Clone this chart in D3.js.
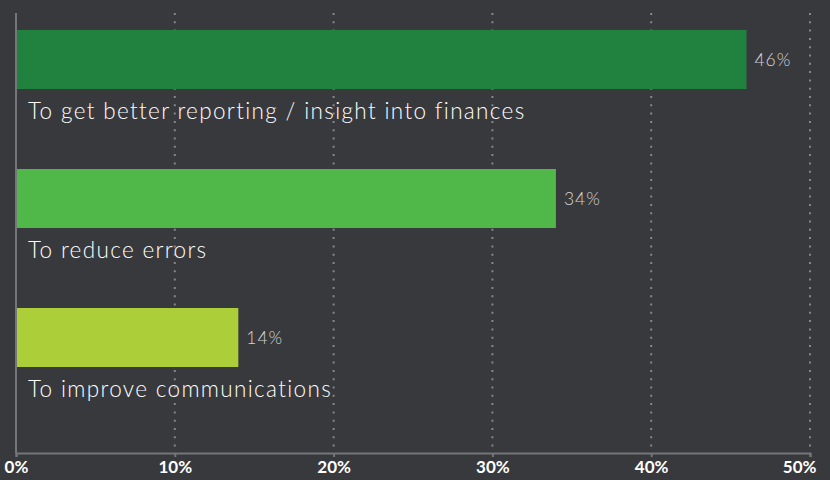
<!DOCTYPE html>
<html>
<head>
<meta charset="utf-8">
<script src="https://cdn.jsdelivr.net/npm/d3@7"></script>
<style>
  body { margin: 0; background: #38393d; }
</style>
</head>
<body>
<div id="chart"></div>
<script>
/* CONSTANTS AND GLOBALS */
const width = 830;
const height = 480;
const margin = { top: 13, left: 16, right: 20, bottom: 27 };

const categories = [
  "To get better reporting / insight into finances",
  "To reduce errors",
  "To improve communications"
];
const values = [46, 34, 14];
const barColors = ["#218240", "#50b849", "#acce39"];
const ticks = [0, 10, 20, 30, 40, 50];

const xScale = d3.scaleLinear()
  .domain([0, 50])
  .range([margin.left, 810]);

const yScale = d3.scaleBand()
  .domain(categories)
  .range([30 - 9, 30 - 9 + 139 * 3])
  .paddingInner(0)
  .paddingOuter(0);

const barH = 59;

const svg = d3.select("#chart")
  .append("svg")
  .attr("width", width)
  .attr("height", height)
  .style("background-color", "#38393d")
  .style("display", "block");

const axisY = height - margin.bottom;

// dotted grid
svg.append("g")
  .selectAll("line")
  .data(ticks.slice(1))
  .join("line")
  .attr("x1", d => xScale(d))
  .attr("x2", d => xScale(d))
  .attr("y1", margin.top)
  .attr("y2", axisY)
  .attr("stroke", "#85868a")
  .attr("stroke-width", 2)
  .attr("stroke-dasharray", "2,6.3");

// bars
svg.append("g")
  .selectAll("rect")
  .data(categories)
  .join("rect")
  .attr("x", xScale(0))
  .attr("y", d => yScale(d) + 9)
  .attr("width", (d, i) => xScale(values[i]) - xScale(0))
  .attr("height", barH)
  .attr("fill", (d, i) => barColors[i]);

// value labels
svg.append("g")
  .attr("font-family", "Lato, sans-serif")
  .attr("font-weight", 300)
  .attr("font-size", 17.5)
  .attr("letter-spacing", "1px")
  .attr("fill", "#d4d4d6")
  .selectAll("text")
  .data(categories)
  .join("text")
  .attr("x", (d, i) => xScale(values[i]) + 8)
  .attr("y", d => yScale(d) + 9 + barH / 2 + 6)
  .text((d, i) => values[i] + "%");

// category labels
svg.append("g")
  .attr("font-family", "Lato, sans-serif")
  .attr("font-weight", 300)
  .attr("font-size", 22.5)
  .attr("letter-spacing", "1.35px")
  .attr("fill", "#ffffff")
  .selectAll("text")
  .data(categories)
  .join("text")
  .attr("x", 28)
  .attr("y", d => yScale(d) + 9 + barH + 30)
  .text(d => d);

// left axis line
svg.append("line")
  .attr("x1", margin.left).attr("x2", margin.left)
  .attr("y1", margin.top).attr("y2", axisY)
  .attr("stroke", "#75767a")
  .attr("stroke-width", 2);

// bottom axis
const xAxis = g => g
  .attr("transform", `translate(0,${axisY})`)
  .call(d3.axisBottom(xScale).tickValues(ticks).tickSize(4).tickFormat(d => d + "%"))
  .call(g => g.select(".domain").attr("stroke", "#75767a").attr("stroke-width", 2))
  .call(g => g.selectAll(".tick line").attr("stroke", "#75767a").attr("stroke-width", 2))
  .call(g => g.selectAll(".tick text")
    .attr("fill", "#ffffff")
    .attr("font-family", "Lato, sans-serif")
    .attr("font-weight", 700)
    .attr("font-size", 17)
    .attr("dy", "0.95em")
    .attr("y", 4))
  .call(g => g.selectAll(".tick").filter(d => d === 50).select("text")
    .attr("text-anchor", "end").attr("x", 6));

svg.append("g").call(xAxis);
</script>
</body>
</html>
